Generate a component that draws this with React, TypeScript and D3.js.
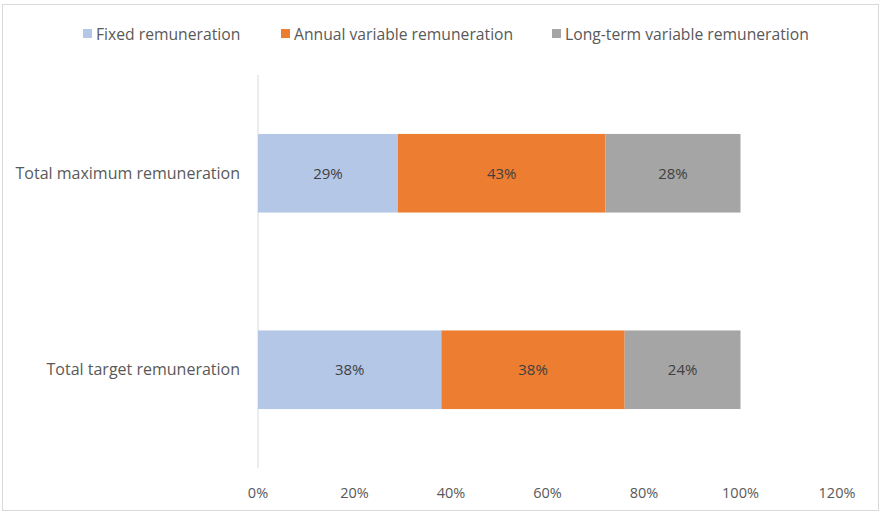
import React, { useEffect, useRef } from "react";
import * as d3 from "d3";

const categories = ["Total maximum remuneration", "Total target remuneration"];
const seriesNames = [
  "Fixed remuneration",
  "Annual variable remuneration",
  "Long-term variable remuneration",
];
const fixedValues = [29, 38];
const annualValues = [43, 38];
const longTermValues = [28, 24];
const xTicks = [0, 20, 40, 60, 80, 100, 120];
const colors = ["#B4C7E7", "#ED7D31", "#A5A5A5"];

const width = 880;
const height = 515;

const App: React.FC = () => {
  const svgRef = useRef<SVGSVGElement | null>(null);

  useEffect(() => {
    if (!svgRef.current) return;
    const svg = d3.select(svgRef.current);
    svg.selectAll("*").remove();

    const font = "'Open Sans', sans-serif";
    const margin = { top: 75, right: 43, bottom: 47, left: 258 };

    // chart frame
    svg
      .append("rect")
      .attr("x", 2.5)
      .attr("y", 4.5)
      .attr("width", width - 4)
      .attr("height", height - 9)
      .attr("fill", "#fff")
      .attr("stroke", "#D9D9D9");

    const x = d3
      .scaleLinear()
      .domain([0, 120])
      .range([margin.left, width - margin.right]);

    const y = d3
      .scaleBand<string>()
      .domain(categories)
      .range([margin.top, height - margin.bottom])
      .paddingInner(0.6)
      .paddingOuter(0.3);

    const rows = categories.map((c, i) => ({
      category: c,
      values: [fixedValues[i], annualValues[i], longTermValues[i]],
    }));

    const stacked = d3
      .stack<{ category: string; values: number[] }, number>()
      .keys([0, 1, 2])
      .value((d, k) => d.values[k])(rows);

    // x axis labels
    svg
      .append("g")
      .selectAll("text")
      .data(xTicks)
      .enter()
      .append("text")
      .attr("x", (d) => x(d))
      .attr("y", 498)
      .attr("text-anchor", "middle")
      .style("font-family", font)
      .style("font-size", "14.5px")
      .style("fill", "#595959")
      .text((d) => d + "%");

    // vertical axis line
    svg
      .append("line")
      .attr("x1", x(0))
      .attr("x2", x(0))
      .attr("y1", margin.top)
      .attr("y2", height - margin.bottom)
      .attr("stroke", "#D9D9D9")
      .attr("stroke-width", 1);

    // category labels
    svg
      .append("g")
      .selectAll("text")
      .data(categories)
      .enter()
      .append("text")
      .attr("x", 240)
      .attr("y", (d) => (y(d) as number) + y.bandwidth() / 2)
      .attr("dy", "0.35em")
      .attr("text-anchor", "end")
      .style("font-family", font)
      .style("font-size", "16px")
      .style("fill", "#595959")
      .text((d) => d);

    // bars
    stacked.forEach((layer, li) => {
      const g = svg.append("g");
      g.selectAll("rect")
        .data(layer)
        .enter()
        .append("rect")
        .attr("x", (d) => x(d[0]))
        .attr("y", (d) => y(d.data.category) as number)
        .attr("width", (d) => x(d[1]) - x(d[0]))
        .attr("height", y.bandwidth())
        .attr("fill", colors[li]);

      g.selectAll("text")
        .data(layer)
        .enter()
        .append("text")
        .attr("x", (d) => (x(d[0]) + x(d[1])) / 2)
        .attr("y", (d) => (y(d.data.category) as number) + y.bandwidth() / 2)
        .attr("dy", "0.35em")
        .attr("text-anchor", "middle")
        .style("font-family", font)
        .style("font-size", "15px")
        .style("fill", "#404040")
        .text((d) => d[1] - d[0] + "%");
    });

    // legend
    const legendX = [83, 281, 552];
    const legend = svg
      .append("g")
      .selectAll("g")
      .data(seriesNames)
      .enter()
      .append("g")
      .attr("transform", (d, i) => `translate(${legendX[i]},34)`);

    legend
      .append("rect")
      .attr("x", 0)
      .attr("y", -5)
      .attr("width", 9)
      .attr("height", 9)
      .attr("fill", (d, i) => colors[i]);

    legend
      .append("text")
      .attr("x", 13)
      .attr("y", 0)
      .attr("dy", "0.35em")
      .style("font-family", font)
      .style("font-size", "15.7px")
      .style("fill", "#595959")
      .text((d) => d);
  }, []);

  return (
    <svg
      ref={svgRef}
      width={width}
      height={height}
      style={{ position: "absolute", left: 0, top: 0 }}
    />
  );
};

export default App;
